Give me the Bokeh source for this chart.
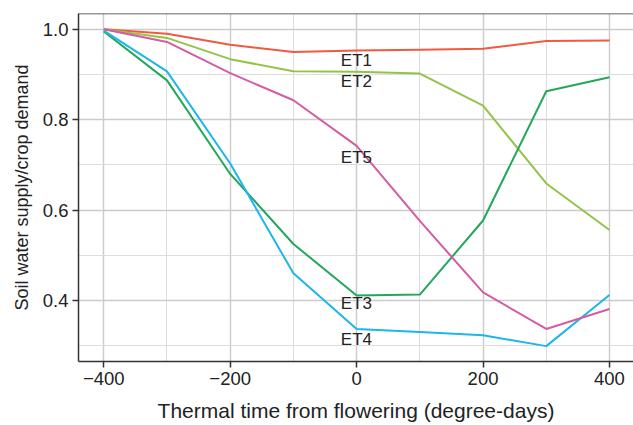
from bokeh.plotting import figure
from bokeh.models import FixedTicker, Span, Range1d
from bokeh.core.properties import value
from bokeh.embed import file_html
from bokeh.resources import INLINE

x = [-400, -300, -200, -100, 0, 100, 200, 300, 400]
et1 = [1.0, 0.990, 0.966, 0.950, 0.953, 0.955, 0.957, 0.974, 0.975]
et2 = [1.0, 0.981, 0.934, 0.907, 0.906, 0.902, 0.831, 0.659, 0.556]
et3 = [0.995, 0.887, 0.680, 0.525, 0.411, 0.413, 0.577, 0.863, 0.894]
et4 = [0.997, 0.907, 0.703, 0.460, 0.337, 0.330, 0.323, 0.299, 0.412]
et5 = [1.0, 0.972, 0.903, 0.843, 0.742, 0.576, 0.418, 0.337, 0.381]

series = [("ET1", et1, "#f15a3e"), ("ET2", et2, "#93c447"), ("ET3", et3, "#22a75b"),
          ("ET4", et4, "#1cb6ec"), ("ET5", et5, "#d35ca3")]
label_names = ["ET1", "ET2", "ET5", "ET3", "ET4"]
label_x = [-25, -25, -25, -25, -25]
label_y = [0.931, 0.884, 0.717, 0.393, 0.314]

x_ticks = [-400, -200, 0, 200, 400]
x_minor = [-300, -100, 100, 300]
y_ticks = [0.4, 0.6, 0.8, 1.0]
y_minor = [0.3, 0.5, 0.7, 0.9]

FONT = "Liberation Sans"

p = figure(width=633, height=425, output_backend="svg", toolbar_location=None,
           x_range=Range1d(-440, 438), y_range=Range1d(0.265, 1.035),
           min_border_left=78, min_border_right=0, min_border_top=13, min_border_bottom=64)
p.outline_line_color = None
p.background_fill_color = "white"

for name, ys, col in series:
    p.line(x, ys, line_color=col, line_width=2)

p.text(label_x, label_y, text=label_names, text_font=value(FONT), text_font_size="17px",
       text_color="#222222", text_baseline="middle", text_align="left")

p.xaxis.ticker = FixedTicker(ticks=x_ticks, minor_ticks=x_minor)
p.yaxis.ticker = FixedTicker(ticks=y_ticks, minor_ticks=y_minor)
p.xaxis.major_label_overrides = {-400: "\u2212400", -200: "\u2212200", 0: "0", 200: "200", 400: "400"}
p.yaxis.major_label_overrides = {0.4: "0.4", 0.6: "0.6", 0.8: "0.8", 1.0: "1.0"}

for ax in (p.xaxis, p.yaxis):
    ax.axis_line_color = "#333333"
    ax.axis_line_width = 1.5
    ax.major_tick_line_color = "#333333"
    ax.major_tick_line_width = 1.5
    ax.major_tick_in = 0
    ax.major_tick_out = 6
    ax.minor_tick_line_color = None
    ax.major_label_text_font = FONT
    ax.major_label_text_font_size = "18.5px"
    ax.major_label_text_color = "#222222"
    ax.axis_label_text_font = FONT
    ax.axis_label_text_font_style = "normal"
    ax.axis_label_text_color = "#222222"

p.xaxis.axis_label = "Thermal time from flowering (degree-days)"
p.yaxis.axis_label = "Soil water supply/crop demand"
p.xaxis.axis_label_text_font_size = "21px"
p.yaxis.axis_label_text_font_size = "18px"
p.xaxis.major_label_standoff = 4
p.yaxis.major_label_standoff = 4
p.xaxis.axis_label_standoff = 11
p.yaxis.axis_label_standoff = 8

for g in (p.xgrid, p.ygrid):
    g.grid_line_color = "#cccccc"
    g.grid_line_width = 1.5
    g.minor_grid_line_color = "#dddddd"
    g.minor_grid_line_width = 1

p.add_layout(Span(location=1.035, dimension="width", line_color="#333333", line_width=1.5))

open("out.html", "w").write(file_html(p, INLINE))
